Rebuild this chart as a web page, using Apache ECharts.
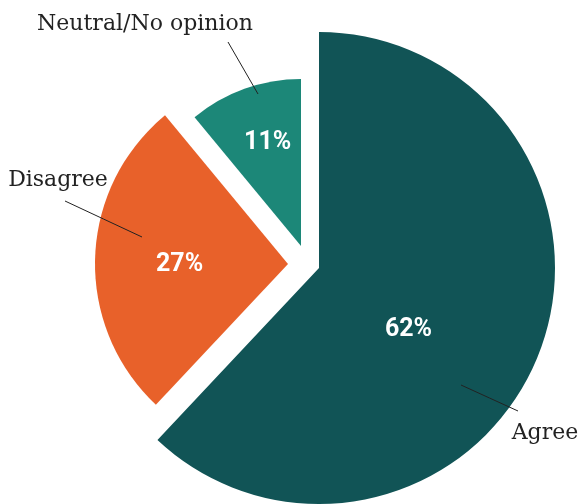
<!DOCTYPE html>
<html>
<head>
<meta charset="utf-8">
<script src="https://cdn.jsdelivr.net/npm/echarts@6/dist/echarts.min.js"></script>
<style>html,body{margin:0;padding:0;background:#fff;}#c{width:579px;height:504px;}</style>
</head>
<body>
<div id="c"></div>
<script>
// ---- data ----
const categories = ['Agree', 'Disagree', 'Neutral/No opinion'];
const values = [62, 27, 11];

// ---- styling / layout ----
const colors = ['#115456', '#e8612a', '#1c8778'];
const sliceCenters = [[319, 268], [288, 264], [301, 246]];
const sliceRadii = [236, 193, 167];
const pctOffsets = [[-23, 17], [-9, 4], [-4, -22]];
const namePos = [[545, 433], [58, 180], [145, 24]];
const nameLines = [[[461, 385], [518, 411]], [[142, 237], [65, 201]], [[258, 94], [228, 42]]];

const chart = echarts.init(document.getElementById('c'), null, {renderer: 'canvas'});

const series = [];
categories.forEach(function (cat, k) {
  series.push({
    type: 'pie',
    z: 2,
    center: sliceCenters[k],
    radius: [0, sliceRadii[k]],
    startAngle: 90,
    clockwise: true,
    avoidLabelOverlap: false,
    silent: true,
    animation: false,
    emphasis: {disabled: true},
    data: categories.map(function (c, i) {
      const on = i === k;
      return {
        name: c,
        value: values[i],
        itemStyle: {color: on ? colors[i] : 'rgba(0,0,0,0)', borderWidth: 0},
        label: {show: on},
        labelLine: {show: false}
      };
    }),
    label: {
      position: 'inside',
      formatter: '{c}%',
      color: '#ffffff',
      fontFamily: 'Roboto',
      fontWeight: 'bold',
      fontSize: 25
    },
    labelLayout: function (p) {
      return {dx: pctOffsets[k][0], dy: pctOffsets[k][1]};
    }
  });
});

// name labels with leader lines
series.push({
  type: 'pie',
  z: 5,
  center: [305, 262],
  radius: [0, 200],
  startAngle: 90,
  clockwise: true,
  avoidLabelOverlap: false,
  silent: true,
  animation: false,
  emphasis: {disabled: true},
  itemStyle: {color: 'rgba(0,0,0,0)'},
  data: categories.map(function (c, i) { return {name: c, value: values[i]}; }),
  label: {
    show: true,
    position: 'outside',
    formatter: '{b}',
    color: '#222222',
    fontFamily: 'DejaVu Serif',
    fontSize: 22
  },
  labelLine: {show: true, lineStyle: {color: '#222222', width: 1}},
  labelLayout: function (p) {
    const i = p.dataIndex;
    const a = nameLines[i][0], b = nameLines[i][1];
    return {
      x: namePos[i][0],
      y: namePos[i][1],
      align: 'center',
      verticalAlign: 'middle',
      labelLinePoints: [a, [(a[0] + b[0]) / 2, (a[1] + b[1]) / 2], b]
    };
  }
});

chart.setOption({
  backgroundColor: '#ffffff',
  animation: false,
  series: series
});
</script>
</body>
</html>
